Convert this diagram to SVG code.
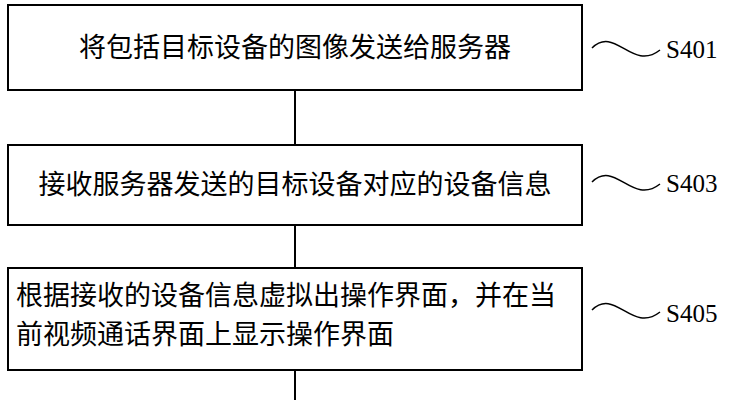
<svg xmlns="http://www.w3.org/2000/svg" width="735" height="400" viewBox="0 0 735 400">
<style>
.b{fill:#fff;stroke:#000;stroke-width:2}
.t{font-family:"Noto Sans CJK SC",sans-serif;font-size:27px;fill:#000}
.l{font-family:"Liberation Serif",serif;font-size:25px;fill:#000}
.w{fill:none;stroke:#000;stroke-width:1.5}
</style>
<rect width="735" height="400" fill="#fff"/>
<g id="connectors" stroke="#000" stroke-width="2">
<line x1="295" y1="90" x2="295" y2="145"/>
<line x1="295" y1="225" x2="295" y2="268"/>
<line x1="295" y1="370" x2="295" y2="400"/>
</g>
<g id="n1"><rect class="b" x="8" y="5" width="574" height="85"/>
<text class="t" x="295" y="57" text-anchor="middle">将包括目标设备的图像发送给服务器</text>
<path class="w" d="M592 48 C615 25,632 72,660 50"/><text class="l" x="666" y="58">S401</text></g>
<g id="n2"><rect class="b" x="8" y="145" width="574" height="80"/>
<text class="t" x="295" y="194" text-anchor="middle">接收服务器发送的目标设备对应的设备信息</text>
<path class="w" d="M592 182 C615 159,632 206,660 184"/><text class="l" x="666" y="192">S403</text></g>
<g id="n3"><rect class="b" x="8" y="268" width="574" height="102"/>
<text class="t" x="16" y="305">根据接收的设备信息虚拟出操作界面，并在当</text>
<text class="t" x="16" y="344">前视频通话界面上显示操作界面</text>
<path class="w" d="M592 310 C615 287,632 334,660 312"/><text class="l" x="666" y="322">S405</text></g>
</svg>
